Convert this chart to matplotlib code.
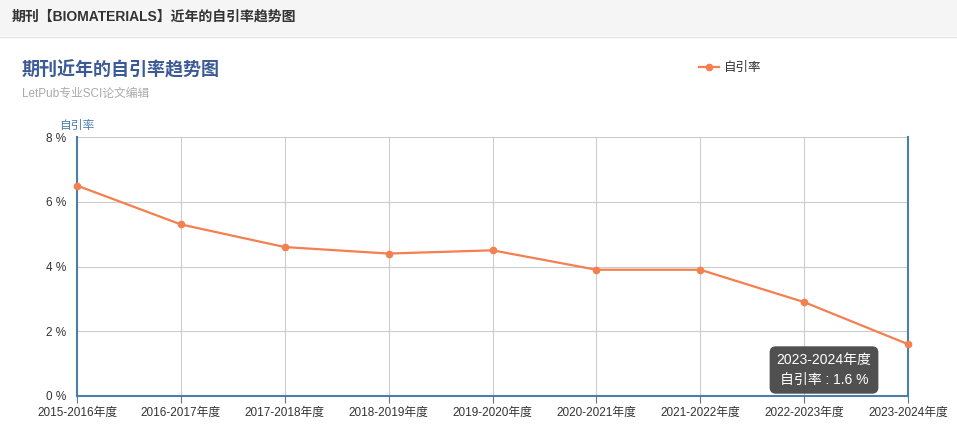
import matplotlib.pyplot as plt
from matplotlib.patches import Rectangle

plt.rcParams['font.family'] = ['Liberation Sans', 'Noto Sans CJK SC', 'DejaVu Sans']

# data
seasons = ['2015-2016年度', '2016-2017年度', '2017-2018年度', '2018-2019年度',
           '2019-2020年度', '2020-2021年度', '2021-2022年度', '2022-2023年度',
           '2023-2024年度']
self_cite = [6.5, 5.3, 4.6, 4.4, 4.5, 3.9, 3.9, 2.9, 1.6]
y_ticks = [0, 2, 4, 6, 8]

W, H = 957, 429
LINE = '#f47f4f'
AXIS = '#4a7fab'
GRID = '#cccccc'
TEXT = '#333333'

fig = plt.figure(figsize=(W / 100, H / 100), dpi=100, facecolor='white')

# header bar
fig.patches.append(Rectangle((0, 1 - 36 / H), 1, 36 / H, transform=fig.transFigure,
                             facecolor='#f5f5f5', edgecolor='none', zorder=0))
fig.lines.append(plt.Line2D([0, 1], [1 - 36.5 / H] * 2, transform=fig.transFigure,
                            color='#e3e3e3', linewidth=1))
fig.text(12 / W, 1 - 17 / H, '期刊【BIOMATERIALS】近年的自引率趋势图', fontsize=10,
         fontweight='bold', color=TEXT, va='center')

# titles
fig.text(22 / W, 1 - 70 / H, '期刊近年的自引率趋势图', fontsize=13, fontweight='bold',
         color='#3c5a96', va='center')
fig.text(22 / W, 1 - 94 / H, 'LetPub专业SCI论文编辑', fontsize=8.5, color='#aaaaaa',
         va='center')

ax = fig.add_axes([77 / W, 33 / H, (908 - 77) / W, (396 - 137) / H])
x = list(range(len(seasons)))
ax.plot(x, self_cite, color=LINE, linewidth=1.6, marker='o', markersize=4.5,
        label='自引率', clip_on=False, zorder=5)

ax.set_xlim(0, len(seasons) - 1)
ax.set_ylim(0, 8)
ax.set_xticks(x)
ax.set_xticklabels(seasons, fontsize=8.5, color=TEXT)
ax.set_yticks(y_ticks)
ax.set_yticklabels([f'{v} %' for v in y_ticks], fontsize=8.5, color=TEXT)
ax.grid(True, color=GRID, linewidth=0.8)
ax.set_axisbelow(True)

ax.spines['top'].set_visible(False)
for side in ['left', 'bottom', 'right']:
    ax.spines[side].set_color(AXIS)
    ax.spines[side].set_linewidth(1.5)
ax.tick_params(axis='y', length=0, pad=8)
ax.tick_params(axis='x', length=5, color=AXIS, pad=3)

# y axis name
fig.text(77 / W, 1 - 126 / H, '自引率', fontsize=8.5, color=AXIS, ha='center', va='center')

# legend
leg = fig.legend(handles=ax.get_lines(), loc='center left',
                 bbox_to_anchor=(688 / W, 1 - 68 / H), frameon=False, fontsize=9,
                 handlelength=1.6, handletextpad=0.4)
for t in leg.get_texts():
    t.set_color(TEXT)

# tooltip
fig.text(824 / W, 1 - 370 / H, f'{seasons[-1]}\n自引率 : {self_cite[-1]} %',
         fontsize=10, color='white', ha='center', va='center', linespacing=1.5,
         bbox=dict(boxstyle='round,pad=0.5,rounding_size=0.45', facecolor='#464646',
                   edgecolor='none', alpha=0.95))

plt.savefig('out.png', dpi=100, facecolor='white')
